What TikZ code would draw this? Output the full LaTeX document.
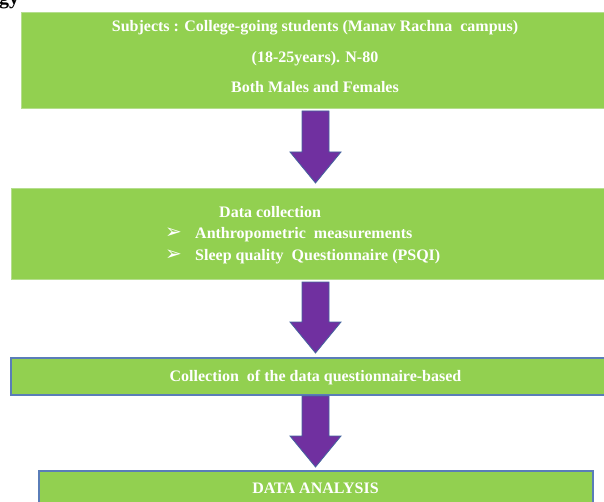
\documentclass[tikz,border=0pt]{standalone}
\usepackage{fontspec}
\setmainfont{Liberation Serif}
\newfontfamily\symfont{DejaVu Sans}
\usetikzlibrary{calc}
\definecolor{boxgreen}{HTML}{92D050}
\definecolor{lightedge}{HTML}{B5DE8E}
\definecolor{blueedge}{HTML}{5A7DB8}
\definecolor{arrowpurple}{HTML}{7030A0}
\definecolor{arrowedge}{HTML}{44649E}
\tikzset{
  greenbox/.style={draw=lightedge, line width=1pt, fill=boxgreen, anchor=north west, inner sep=0pt},
  bluebox/.style={draw=blueedge, line width=1.6pt, fill=boxgreen, anchor=north west, inner sep=0pt},
  wtext/.style={text=white, font=\bfseries\fontsize{16}{18}\selectfont, inner sep=0pt, anchor=base},
  bullet/.style={text=white, font=\symfont\fontsize{20}{22}\selectfont, inner sep=0pt, anchor=base west},
  fatarrow/.style={fill=arrowpurple, draw=arrowedge, line width=0.8pt, line join=miter}
}
\newcommand\purplearrow[3]{% x, top y, tip y
  \draw[fatarrow] (#1-13.5,#2) -- (#1+13.5,#2) -- (#1+13.5,#3-31) -- (#1+25.5,#3-31)
    -- (#1,#3) -- (#1-25.5,#3-31) -- (#1-13.5,#3-31) -- cycle;}
\begin{document}
\begin{tikzpicture}[x=1pt,y=-1pt]
\useasboundingbox (0,0) rectangle (604,502);
% fragment of heading above
\node[anchor=base west, inner sep=0pt, font=\bfseries\fontsize{20}{22}\selectfont] (head) at (-1,5) {gy};
% boxes
\node[greenbox, minimum width=600pt, minimum height=96pt] (b1) at (21,12) {};
\node[greenbox, minimum width=610pt, minimum height=91pt] (b2) at (11,188) {};
\node[bluebox, minimum width=610pt, minimum height=37pt] (b3) at (10,357) {};
\node[bluebox, minimum width=554pt, minimum height=60pt] (b4) at (38,470) {};
% texts
\node[wtext] (t1a) at (315,32) {Subjects : College-going students (Manav Rachna\ \ campus)};
\node[wtext] (t1b) at (315,63) {(18-25years). N-80};
\node[wtext] (t1c) at (315,93) {Both Males and Females};
\node[wtext, anchor=base west] (t2a) at (219,218) {Data collection};
\node[wtext, anchor=base west] (t2b) at (195,239) {Anthropometric\ \ measurements};
\node[wtext, anchor=base west] (t2c) at (195,261) {Sleep quality\ \ Questionnaire (PSQI)};
\node[bullet] (bu1) at (165,239) {➢};
\node[bullet] (bu2) at (165,261) {➢};
\node[wtext] (t3) at (315.5,381) {Collection\ \ of the data questionnaire-based};
\node[wtext] (t4) at (315.5,493) {DATA ANALYSIS};
% arrows
\purplearrow{315.5}{111}{183}
\purplearrow{315.5}{282}{353}
\purplearrow{315.5}{396}{467}
\end{tikzpicture}
\end{document}
